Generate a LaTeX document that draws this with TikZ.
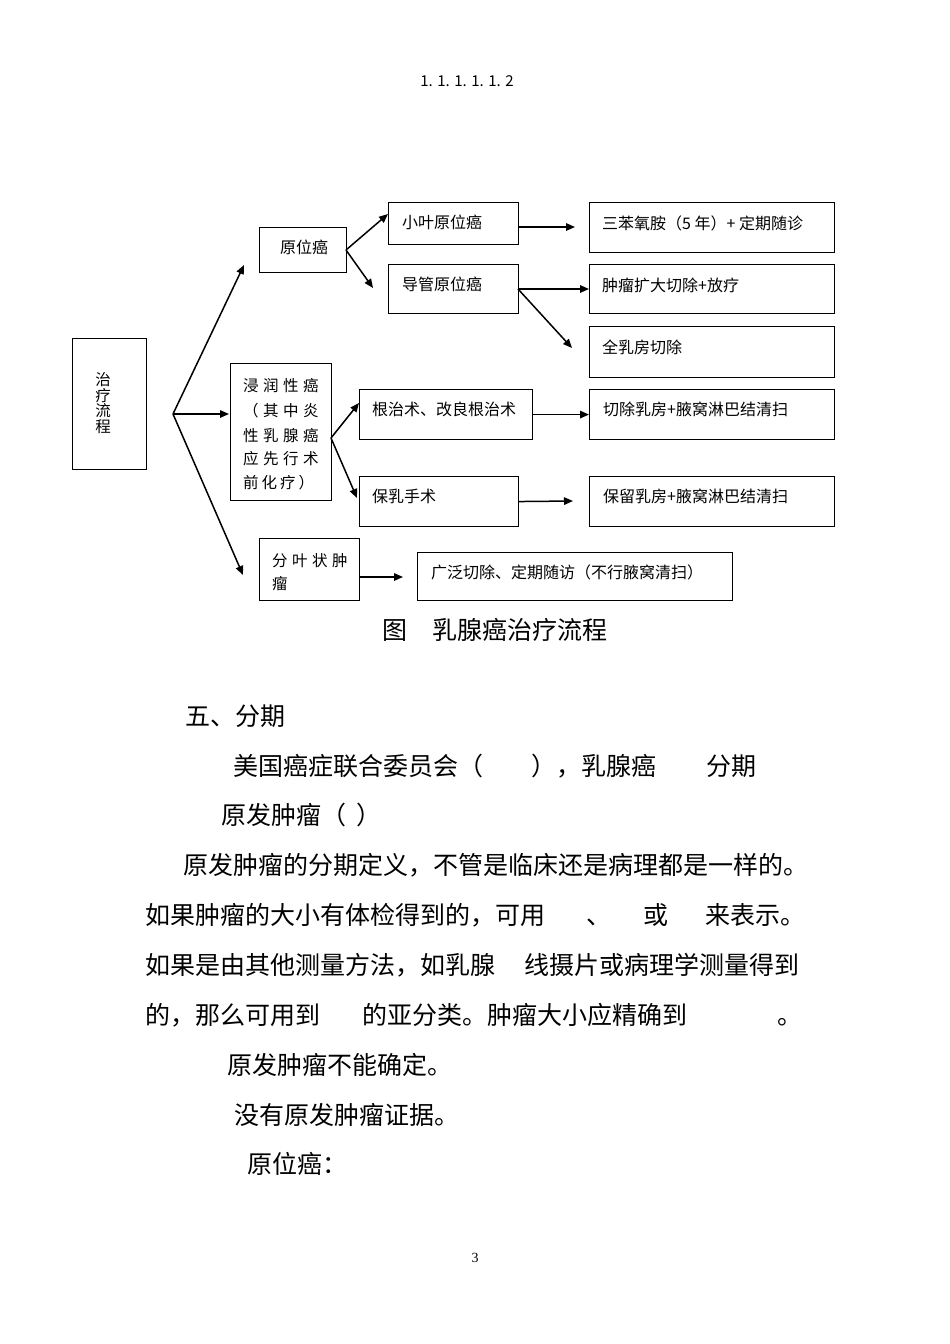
\documentclass[tikz,border=0pt]{standalone}
\usepackage{fontspec}
\setmainfont{Noto Sans CJK SC}
\newfontfamily\serifnum{Liberation Serif}
\usetikzlibrary{arrows.meta}
\newcommand\gs{\hspace{4.5pt}}
\newcommand\gt{\hspace{3pt}}
\begin{document}
\begin{tikzpicture}[x=1pt,y=-1pt,
  box/.style={draw, line width=1.1pt, inner sep=0pt, anchor=north west},
  arr/.style={-{Triangle[length=9pt,width=7.5pt]}, line width=1.5pt},
  lbl/.style={inner sep=0pt, anchor=west, font=\fontsize{16}{18}\selectfont, text height=1.26em, text depth=0pt},
  body/.style={inner sep=0pt, anchor=west, font=\fontsize{25}{30}\selectfont, text height=1.56em, text depth=0pt},
  captxt/.style={inner sep=0pt, anchor=west, font=\fontsize{25}{30}\selectfont, text height=1.56em, text depth=0pt}
]
\fill[white] (0,0) rectangle (950,1344);
\useasboundingbox (0,0) rectangle (950,1344);

% header and page number
\node[inner sep=0pt, font=\fontsize{15}{18}\selectfont] (hdr) at (467,81) {1. 1. 1. 1. 1. 2};
\node[inner sep=0pt, font=\serifnum\fontsize{14}{16}\selectfont] (pg) at (475,1258) {3};

% boxes
\node[box, minimum width=74pt, minimum height=131pt] (root) at (72,338) {};
\node[box, minimum width=87pt, minimum height=45pt] (yw) at (259,227) {};
\node[box, minimum width=101pt, minimum height=137pt] (jr) at (230,363) {};
\node[box, minimum width=100pt, minimum height=62pt] (fy) at (259,538) {};
\node[box, minimum width=130pt, minimum height=42pt] (xy) at (388,202) {};
\node[box, minimum width=130pt, minimum height=49pt] (dg) at (388,264) {};
\node[box, minimum width=173pt, minimum height=50pt] (gz) at (359,389) {};
\node[box, minimum width=159pt, minimum height=50pt] (br) at (359,476) {};
\node[box, minimum width=315pt, minimum height=48pt] (gf) at (417,552) {};
\node[box, minimum width=245pt, minimum height=50pt] (sb) at (589,202) {};
\node[box, minimum width=245pt, minimum height=49pt] (zl) at (589,264) {};
\node[box, minimum width=245pt, minimum height=51pt] (qr) at (589,326) {};
\node[box, minimum width=245pt, minimum height=50pt] (qc) at (589,389) {};
\node[box, minimum width=245pt, minimum height=50pt] (bl) at (589,476) {};

% box texts
\node[inner sep=0pt, align=center, font=\fontsize{15.5}{15.5}\selectfont] (roottxt) at (103,403) {治\\疗\\流\\程};
\node[lbl] (ywtxt) at (280,247) {原位癌};
\node[lbl, font=\fontsize{15.5}{18}\selectfont] (jr1) at (243,385) {浸\gs 润\gs 性\gs 癌};
\node[lbl, font=\fontsize{15.5}{18}\selectfont] (jr2) at (243,410) {（\gs 其\gs 中\gs 炎};
\node[lbl, font=\fontsize{15.5}{18}\selectfont] (jr3) at (243,435) {性\gs 乳\gs 腺\gs 癌};
\node[lbl, font=\fontsize{15.5}{18}\selectfont] (jr4) at (243,458) {应\gs 先\gs 行\gs 术};
\node[lbl, font=\fontsize{15.5}{18}\selectfont] (jr5) at (243,482) {前\gt 化\gt 疗\gt ）};
\node[lbl, font=\fontsize{15.5}{18}\selectfont] (fy1) at (272,560) {分\gs 叶\gs 状\gs 肿};
\node[lbl, font=\fontsize{15.5}{18}\selectfont] (fy2) at (272,583) {瘤};
\node[lbl] (xytxt) at (402,222) {小叶原位癌};
\node[lbl] (dgtxt) at (402,284) {导管原位癌};
\node[lbl] (gztxt) at (372,409) {根治术、改良根治术};
\node[lbl] (brtxt) at (372,496) {保乳手术};
\node[lbl] (gftxt) at (431,572) {广泛切除、定期随访（不行腋窝清扫）};
\node[lbl] (sbtxt) at (602,223) {三苯氧胺（5 年）+ 定期随诊};
\node[lbl] (zltxt) at (602,285) {肿瘤扩大切除+放疗};
\node[lbl] (qrtxt) at (602,347) {全乳房切除};
\node[lbl] (qctxt) at (603,409) {切除乳房+腋窝淋巴结清扫};
\node[lbl] (bltxt) at (603,496) {保留乳房+腋窝淋巴结清扫};

% connector points
\coordinate (B) at (173,414);
\coordinate (tYW) at (244,265);
\coordinate (tJR) at (229,414);
\coordinate (tFY) at (243,575);
\coordinate (sYW) at (346,250);
\coordinate (tXY) at (388,214);
\coordinate (tDG) at (373,288);
\coordinate (sDG) at (518,289);
\coordinate (tQR) at (572,348);
\coordinate (sJR) at (331,438);
\coordinate (tGZ) at (359,403);
\coordinate (tBR) at (357,498);

\draw[arr] (B) -- (tYW);
\draw[arr] (B) -- (tJR);
\draw[arr] (B) -- (tFY);
\draw[arr] (sYW) -- (tXY);
\draw[arr] (sYW) -- (tDG);
\draw[arr] (xy.east |- 0,227) -- (575,227);
\draw[arr] (sDG) -- (zl.west |- sDG);
\draw[arr] (sDG) -- (tQR);
\draw[arr] (sJR) -- (tGZ);
\draw[arr] (sJR) -- (tBR);
\draw[arr] (gz.east) -- (qc.west);
\draw[arr] (br.east) -- (573,501);
\draw[arr] (fy.east |- 0,577) -- (403,577);

% caption
\node[captxt] (cap1) at (382,632) {图};
\node[captxt] (cap2) at (432,632) {乳腺癌治疗流程};

% body text
\node[body] (l1) at (185,718) {五、分期};
\node[body] (l2a) at (233,768) {美国癌症联合委员会（};
\node[body] (l2b) at (531,768) {），乳腺癌};
\node[body] (l2c) at (706,768) {分期};
\node[body] (l3) at (221,817) {原发肿瘤（\hspace{10pt}）};
\node[body] (l4) at (183,867) {原发肿瘤的分期定义，不管是临床还是病理都是一样的。};
\node[body] (l5a) at (145,917) {如果肿瘤的大小有体检得到的，可用};
\node[body] (l5b) at (586,917) {、};
\node[body] (l5c) at (643,917) {或};
\node[body] (l5d) at (705,917) {来表示。};
\node[body] (l6a) at (145,967) {如果是由其他测量方法，如乳腺};
\node[body] (l6b) at (524,967) {线摄片或病理学测量得到};
\node[body] (l7a) at (145,1017) {的，那么可用到};
\node[body] (l7b) at (362,1017) {的亚分类。肿瘤大小应精确到};
\node[body] (l7c) at (777,1017) {。};
\node[body] (l8) at (227,1067) {原发肿瘤不能确定。};
\node[body] (l9) at (234,1117) {没有原发肿瘤证据。};
\node[body] (l10) at (247,1166) {原位癌：};
\end{tikzpicture}
\end{document}
